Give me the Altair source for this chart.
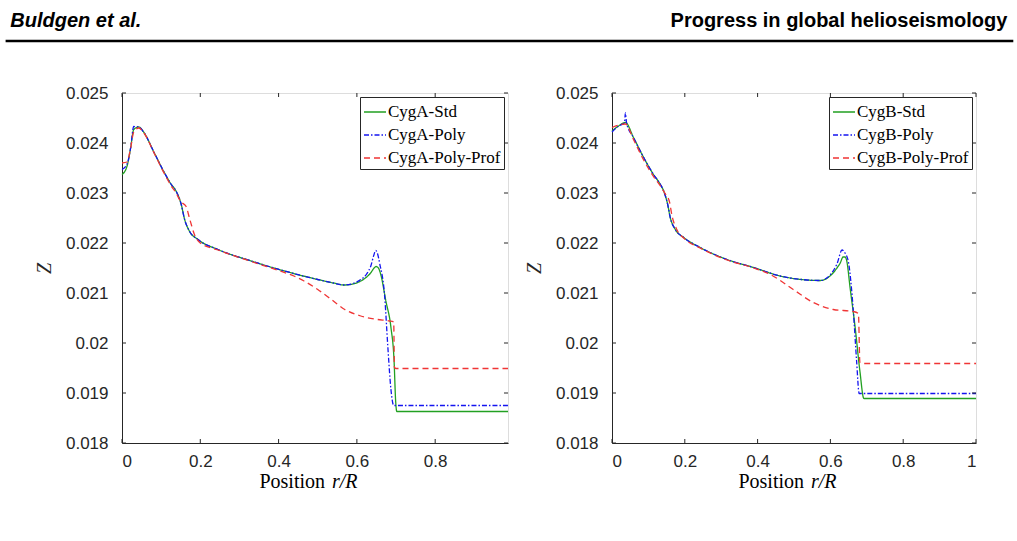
import altair as alt
import pandas as pd

# ---------------- CygA models ----------------
a_std_r = [0, 0.013, 0.022, 0.030, 0.043, 0.056, 0.082, 0.108, 0.125, 0.138, 0.151, 0.160,
           0.172, 0.194, 0.245, 0.33, 0.415, 0.50, 0.54, 0.567, 0.59, 0.61, 0.625, 0.636,
           0.644, 0.649, 0.655, 0.661, 0.674, 0.687, 0.695, 0.699, 0.702, 0.75, 0.986]
a_std_z = [0.02337, 0.02354, 0.0239, 0.02427, 0.02432, 0.02421, 0.02381, 0.02341, 0.02318,
           0.02304, 0.02278, 0.02247, 0.02224, 0.02207, 0.02187, 0.02164, 0.02144, 0.02127,
           0.02120, 0.02116, 0.02118, 0.02124, 0.02132, 0.02141, 0.0215, 0.02153, 0.0215,
           0.02137, 0.02084, 0.02031, 0.01964, 0.01884, 0.01863, 0.01863, 0.01863]

a_poly_r = [0, 0.013, 0.022, 0.030, 0.043, 0.056, 0.082, 0.108, 0.125, 0.138, 0.151, 0.160,
            0.172, 0.194, 0.245, 0.33, 0.415, 0.50, 0.54, 0.567, 0.59, 0.61, 0.625, 0.636,
            0.643, 0.648, 0.653, 0.658, 0.671, 0.679, 0.687, 0.694, 0.75, 0.986]
a_poly_z = [0.02347, 0.02358, 0.0239, 0.02433, 0.02432, 0.02421, 0.02381, 0.02341, 0.02318,
            0.02304, 0.02278, 0.02247, 0.02224, 0.02207, 0.02187, 0.02164, 0.02144, 0.02127,
            0.02120, 0.02116, 0.02119, 0.02127, 0.02138, 0.02155, 0.02175, 0.02185, 0.02178,
            0.0216, 0.02093, 0.01993, 0.01907, 0.01875, 0.01875, 0.01875]

a_prof_r = [0, 0.013, 0.022, 0.030, 0.043, 0.056, 0.082, 0.108, 0.125, 0.138, 0.151, 0.163,
            0.174, 0.185, 0.2, 0.245, 0.33, 0.40, 0.439, 0.465, 0.50, 0.535, 0.569, 0.61,
            0.653, 0.683, 0.694, 0.696, 0.70, 0.986]
a_prof_z = [0.0236, 0.02362, 0.0239, 0.02422, 0.0243, 0.0242, 0.0238, 0.02339, 0.02315,
            0.023, 0.02282, 0.02274, 0.02245, 0.02217, 0.022, 0.02186, 0.02163, 0.02145,
            0.02134, 0.02124, 0.02107, 0.02087, 0.02067, 0.02054, 0.02047, 0.02044, 0.02042,
            0.01951, 0.01949, 0.01949]

# ---------------- CygB models ----------------
b_std_r = [0, 0.018, 0.037, 0.059, 0.087, 0.114, 0.133, 0.142, 0.153, 0.160, 0.174, 0.197,
           0.242, 0.316, 0.389, 0.462, 0.52, 0.572, 0.599, 0.618, 0.627, 0.635, 0.64, 0.645,
           0.654, 0.668, 0.681, 0.692, 0.75, 1.0]
b_std_z = [0.02424, 0.02434, 0.02441, 0.02411, 0.02371, 0.02337, 0.02317, 0.02304, 0.02277,
           0.02251, 0.02227, 0.02211, 0.02191, 0.02167, 0.02151, 0.02134, 0.02127, 0.02125,
           0.02134, 0.0215, 0.0216, 0.02172, 0.02172, 0.02164, 0.02111, 0.02031, 0.01944,
           0.01889, 0.01889, 0.01889]

b_poly_r = [0, 0.018, 0.034, 0.037, 0.040, 0.059, 0.087, 0.114, 0.133, 0.142, 0.153, 0.160,
            0.174, 0.197, 0.242, 0.316, 0.389, 0.462, 0.52, 0.572, 0.599, 0.618, 0.632, 0.64,
            0.649, 0.663, 0.672, 0.679, 0.75, 1.0]
b_poly_z = [0.02422, 0.02434, 0.0244, 0.0246, 0.0244, 0.02411, 0.02371, 0.02337, 0.02317,
            0.02304, 0.02277, 0.02251, 0.02227, 0.02211, 0.02191, 0.02167, 0.02151, 0.02134,
            0.02127, 0.02125, 0.02136, 0.02158, 0.02186, 0.0218, 0.02164, 0.02064, 0.01964,
            0.01899, 0.01899, 0.01899]

b_prof_r = [0, 0.018, 0.037, 0.059, 0.087, 0.114, 0.133, 0.145, 0.158, 0.165, 0.178, 0.2,
            0.242, 0.316, 0.389, 0.435, 0.498, 0.553, 0.608, 0.663, 0.677, 0.681, 0.69, 1.0]
b_prof_z = [0.02431, 0.02436, 0.02438, 0.02407, 0.02366, 0.02333, 0.02314, 0.023, 0.02282,
            0.02254, 0.02227, 0.02208, 0.0219, 0.02166, 0.0215, 0.02137, 0.02107, 0.02081,
            0.02067, 0.02063, 0.02059, 0.01961, 0.01959, 0.01959]

a_names = ["CygA-Std", "CygA-Poly", "CygA-Poly-Prof"]
b_names = ["CygB-Std", "CygB-Poly", "CygB-Poly-Prof"]

y_ticks = [0.018, 0.019, 0.02, 0.021, 0.022, 0.023, 0.024, 0.025]
a_x_ticks = [0, 0.2, 0.4, 0.6, 0.8]
b_x_ticks = [0, 0.2, 0.4, 0.6, 0.8, 1.0]

COLORS = ["#22a022", "#1414f0", "#f03535"]
DASHES = [[1, 0], [5, 2, 1.5, 2], [6, 4]]
INK = "#262626"
SANS = "Liberation Sans"
SERIF = "Liberation Serif"
H = 350


def frame(rs, zs, names):
    parts = []
    for r, z, n in zip(rs, zs, names):
        parts.append(pd.DataFrame({"r": r, "Z": z, "series": n}))
    return pd.concat(parts, ignore_index=True)


def panel(df, names, xmax, x_ticks, width):
    xscale = alt.Scale(domain=[0, xmax], nice=False, zero=False)
    yscale = alt.Scale(domain=[0.018, 0.025], nice=False, zero=False)
    xaxis = alt.Axis(values=x_ticks, format="~g", title=None, ticks=False, tickSize=0,
                     grid=False, labelPadding=10, labelFont=SANS, labelFontSize=17,
                     labelColor=INK, domainColor=INK)
    yaxis = alt.Axis(values=y_ticks, format="~g", title="Z", ticks=False, tickSize=0,
                     grid=False, labelPadding=14, labelFont=SANS, labelFontSize=17,
                     labelColor=INK, domainColor=INK, titleFont=SERIF,
                     titleFontStyle="italic", titleFontWeight="normal", titleFontSize=20,
                     titleColor=INK, titleX=-78, titleY=H / 2, titleAngle=270,
                     titleAlign="center", titleBaseline="middle")
    legend = alt.Legend(
        title=None, orient="top-right", offset=4, padding=3,
        strokeColor=INK, fillColor="white", cornerRadius=0,
        labelFont=SERIF, labelFontSize=17, labelColor="black", labelOffset=1,
        symbolType="stroke", symbolSize=484, symbolStrokeWidth=1.3,
        rowPadding=3, labelLimit=300,
    )
    x_enc = alt.X("r:Q", scale=xscale, axis=xaxis)
    y_enc = alt.Y("Z:Q", scale=yscale, axis=yaxis)

    lines = alt.Chart(df).mark_line(strokeWidth=1.3, interpolate="monotone").encode(
        x=x_enc,
        y=y_enc,
        color=alt.Color("series:N", scale=alt.Scale(domain=names, range=COLORS), legend=legend),
        strokeDash=alt.StrokeDash("series:N", scale=alt.Scale(domain=names, range=DASHES),
                                  legend=legend),
    )

    # inward tick marks on all four sides of the box
    yt = alt.Chart(pd.DataFrame({"Z": y_ticks}))
    xt = alt.Chart(pd.DataFrame({"r": x_ticks}))
    ticks = [
        yt.mark_rule(color=INK, strokeWidth=1).encode(y=y_enc, x=alt.value(0), x2=alt.value(4)),
        yt.mark_rule(color=INK, strokeWidth=1).encode(y=y_enc, x=alt.value(width - 4),
                                                      x2=alt.value(width)),
        xt.mark_rule(color=INK, strokeWidth=1).encode(x=x_enc, y=alt.value(H),
                                                      y2=alt.value(H - 4)),
        xt.mark_rule(color=INK, strokeWidth=1).encode(x=x_enc, y=alt.value(0),
                                                      y2=alt.value(4)),
    ]

    # x-axis title: "Position" upright, r/R in italics
    ttl = alt.Chart(pd.DataFrame({"a": ["Position"], "b": ["r/R"]}))
    xtitle = [
        ttl.mark_text(align="right", baseline="alphabetic", font=SERIF, fontSize=20,
                      color="black").encode(text="a:N", x=alt.value(width / 2 + 10),
                                            y=alt.value(H + 45)),
        ttl.mark_text(align="left", baseline="alphabetic", font=SERIF, fontSize=20,
                      fontStyle="italic", color="black").encode(
            text="b:N", x=alt.value(width / 2 + 17), y=alt.value(H + 45)),
    ]
    return lines, ticks, xtitle


W_A, W_B = 386, 364

a_df = frame([a_std_r, a_poly_r, a_prof_r], [a_std_z, a_poly_z, a_prof_z], a_names)
b_df = frame([b_std_r, b_poly_r, b_prof_r], [b_std_z, b_poly_z, b_prof_z], b_names)

a_lines, a_ticks, a_title = panel(a_df, a_names, 0.986, a_x_ticks, W_A)
b_lines, b_ticks, b_title = panel(b_df, b_names, 1.0, b_x_ticks, W_B)

# running header of the page
hdr = alt.Chart(pd.DataFrame({"l": ["Buldgen et al."], "r": ["Progress in global helioseismology"]}))
header = [
    hdr.mark_text(align="left", baseline="alphabetic", font=SANS, fontSize=20,
                  fontWeight="bold", fontStyle="italic", color="black").encode(
        text="l:N", x=alt.value(-111.7), y=alt.value(-66)),
    hdr.mark_text(align="right", baseline="alphabetic", font=SANS, fontSize=20,
                  fontWeight="bold", color="black").encode(
        text="r:N", x=alt.value(885.3), y=alt.value(-66)),
    hdr.mark_rule(color="black", strokeWidth=2.5).encode(
        x=alt.value(-116.4), x2=alt.value(891.3), y=alt.value(-52)),
]

left = alt.layer(a_lines, *a_ticks, *a_title, *header).properties(width=W_A, height=H)
right = alt.layer(b_lines, *b_ticks, *b_title).properties(width=W_B, height=H)

chart = alt.hconcat(left, right, spacing=104, bounds="flush").resolve_scale(
    color="independent", strokeDash="independent", x="independent", y="independent"
).resolve_legend(color="independent", strokeDash="independent").properties(
    padding={"left": 3, "top": 10, "right": 0, "bottom": 0}
).configure_view(stroke=INK, strokeWidth=1).configure(background="white")

chart.save("out.html", embed_options={"renderer": "svg", "actions": False})
